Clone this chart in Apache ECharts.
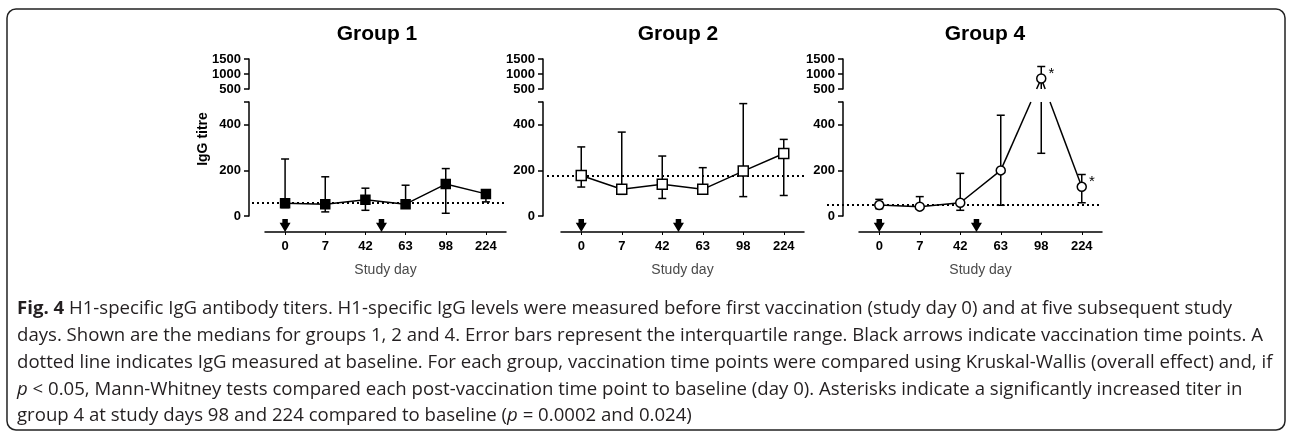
<!DOCTYPE html>
<html><head><meta charset="utf-8">
<script src="https://cdn.jsdelivr.net/npm/echarts@6/dist/echarts.min.js"></script>
<style>html,body{margin:0;padding:0;background:#fff}#c{width:1292px;height:432px}</style>
</head><body><div id="c"></div>
<script>
// ---------------- data ----------------
const days = ['0', '7', '42', '63', '98', '224'];
const vaccinationPos = [0, 2.4];           // arrows: day 0 and between day 42 and 63
const groupTitles = ['Group 1', 'Group 2', 'Group 4'];

const g1Median = [56, 52, 71, 52, 140, 97];
const g1Q1 = [37, 18, 25, 48, 12, 62];
const g1Q3 = [250, 172, 122, 135, 208, 105];
const g1Baseline = 57;

const g2Median = [178, 117, 139, 117, 197, 274];
const g2Q1 = [127, 95, 77, 102, 85, 90];
const g2Q3 = [303, 368, 263, 212, 493, 336];
const g2Baseline = 178;

const g4Median = [48, 41, 58, 200, 850, 128];
const g4Q1 = [32, 30, 25, 47, 275, 58];
const g4Q3 = [73, 85, 187, 442, 1250, 182];
const g4Baseline = 48;
const g4Significance = ['', '', '', '', '*', '*'];

const lowerTicks = [0, 200, 400];
const upperTicks = [500, 1000, 1500];
const breakValue = 500;
const upperMax = 1500;
const yLabel = 'IgG titre';
const xLabel = 'Study day';

const captionLines = [
  '{b|Fig. 4} H1-specific IgG antibody titers. H1-specific IgG levels were measured before first vaccination (study day 0) and at five subsequent study',
  'days. Shown are the medians for groups 1, 2 and 4. Error bars represent the interquartile range. Black arrows indicate vaccination time points. A',
  'dotted line indicates IgG measured at baseline. For each group, vaccination time points were compared using Kruskal-Wallis (overall effect) and, if',
  '{i|p} < 0.05, Mann-Whitney tests compared each post-vaccination time point to baseline (day 0). Asterisks indicate a significantly increased titer in',
  'group 4 at study days 98 and 224 compared to baseline ({i|p} = 0.0002 and 0.024)'
];

// ---------------- layout / style ----------------
const groups = [
  {median: g1Median, q1: g1Q1, q3: g1Q3, base: g1Baseline, sig: null},
  {median: g2Median, q1: g2Q1, q3: g2Q3, base: g2Baseline, sig: null},
  {median: g4Median, q1: g4Q1, q3: g4Q3, base: g4Baseline, sig: g4Significance}
];
const markerStyles = [
  {symbol: 'rect', size: 9, fill: '#000'},
  {symbol: 'rect', size: 10, fill: '#fff'},
  {symbol: 'circle', size: 9, fill: '#fff'}
];
const panels = [
  {axisX: 249, xLeft: 265, xRight: 506, dotLeft: 252, titleX: 377},
  {axisX: 543, xLeft: 561, xRight: 804, dotLeft: 547, titleX: 678},
  {axisX: 843, xLeft: 859, xRight: 1102, dotLeft: 827, titleX: 985}
];
const V = {upperTop: 59, upperBottom: 89, lowerTop: 102, lowerBottom: 216, xAxisY: 232};
const FONT = 'Liberation Sans, Arial, sans-serif';
const CAP = 8;
const LW = 1.5;

const chart = echarts.init(document.getElementById('c'), null, {renderer: 'canvas'});

const grid = [], xAxis = [], yAxis = [], series = [];

const axisLineStyle = {show: true, onZero: false, lineStyle: {color: '#000', width: LW}};
const yLabelStyle = {color: '#000', fontSize: 13, fontWeight: 'bold', fontFamily: FONT, margin: 8, formatter: v => String(v)};

function errorBarItem(api, lo, hi, capLo, capHi) {
  const pLo = api.coord([api.value(0), lo]);
  const pHi = api.coord([api.value(0), hi]);
  const st = {stroke: '#000', lineWidth: LW};
  const ch = [{type: 'line', shape: {x1: pLo[0], y1: pLo[1], x2: pHi[0], y2: pHi[1]}, style: st}];
  if (capLo) ch.push({type: 'line', shape: {x1: pLo[0] - CAP / 2, y1: pLo[1], x2: pLo[0] + CAP / 2, y2: pLo[1]}, style: st});
  if (capHi) ch.push({type: 'line', shape: {x1: pHi[0] - CAP / 2, y1: pHi[1], x2: pHi[0] + CAP / 2, y2: pHi[1]}, style: st});
  return {type: 'group', children: ch};
}

groups.forEach((g, p) => {
  const P = panels[p];
  const n = days.length;
  const band = (P.xRight - P.xLeft) / n;
  const gridLeft = P.dotLeft;
  const gridW = P.xRight - gridLeft;
  const xMin = -0.5 - (P.xLeft - gridLeft) / band;
  const offset = gridLeft - P.axisX;
  const gL = 3 * p, gU = 3 * p + 1, gX = 3 * p + 2;
  const xL = 4 * p, xU = 4 * p + 1, xC = 4 * p + 2, xA = 4 * p + 3;
  const yL = 3 * p, yU = 3 * p + 1, yA = 3 * p + 2;

  grid.push({left: gridLeft, width: gridW, top: V.lowerTop, height: V.lowerBottom - V.lowerTop, outerBoundsMode: 'none'});
  grid.push({left: gridLeft, width: gridW, top: V.upperTop, height: V.upperBottom - V.upperTop, outerBoundsMode: 'none'});
  grid.push({left: P.xLeft, width: P.xRight - P.xLeft, top: V.xAxisY - 30, height: 30, outerBoundsMode: 'none'});

  xAxis.push({type: 'value', gridIndex: gL, min: xMin, max: n - 0.5, show: false});
  xAxis.push({type: 'value', gridIndex: gU, min: xMin, max: n - 0.5, show: false});
  xAxis.push({
    type: 'category', gridIndex: gX, data: days, position: 'bottom', boundaryGap: true,
    axisLine: axisLineStyle,
    axisTick: {show: true, alignWithLabel: true, length: 3, lineStyle: {color: '#000', width: 1}},
    axisLabel: {color: '#000', fontSize: 13, fontWeight: 'bold', fontFamily: FONT, margin: 8},
    splitLine: {show: false},
    name: xLabel, nameLocation: 'middle', nameGap: 31,
    nameTextStyle: {color: '#4a4a4a', fontSize: 14, fontFamily: FONT}
  });
  xAxis.push({type: 'value', gridIndex: gX, min: -0.5, max: n - 0.5, show: false});

  yAxis.push({
    type: 'value', gridIndex: gL, min: 0, max: breakValue, offset: offset,
    axisLine: axisLineStyle,
    axisTick: {show: true, length: 5, customValues: lowerTicks.concat([breakValue]), lineStyle: {color: '#000', width: LW}},
    axisLabel: Object.assign({customValues: lowerTicks}, yLabelStyle),
    splitLine: {show: false}
  });
  yAxis.push({
    type: 'value', gridIndex: gU, min: breakValue, max: upperMax, interval: 500, offset: offset,
    axisLine: axisLineStyle,
    axisTick: {show: true, length: 5, customValues: upperTicks, lineStyle: {color: '#000', width: LW}},
    axisLabel: Object.assign({customValues: upperTicks}, yLabelStyle),
    splitLine: {show: false}
  });
  yAxis.push({type: 'value', gridIndex: gX, min: 0, max: 1, show: false});

  const ms = markerStyles[p];
  const mkData = (inUpper) => g.median.map((v, i) => {
    const ok = inUpper ? v > breakValue : v <= breakValue;
    if (!ok) return [i, '-'];
    const s = g.sig && g.sig[i];
    if (s) return {value: [i, v], label: {show: true, formatter: s, position: 'right', distance: 2, offset: [0, -5], color: '#000', fontSize: 15, fontFamily: FONT}};
    return [i, v];
  });
  const lineCommon = {
    type: 'line', symbol: ms.symbol, symbolSize: ms.size, showSymbol: true, z: 5,
    itemStyle: {color: ms.fill, borderColor: '#000', borderWidth: LW, opacity: 1},
    lineStyle: {color: '#000', width: LW}, animation: false, silent: true
  };
  series.push(Object.assign({}, lineCommon, {
    xAxisIndex: xL, yAxisIndex: yL, data: mkData(false),
    markLine: {
      symbol: 'none', silent: true, label: {show: false}, animation: false,
      lineStyle: {color: '#000', width: 2, type: [2, 3], opacity: 1},
      data: [{yAxis: g.base}]
    }
  }));
  series.push(Object.assign({}, lineCommon, {xAxisIndex: xU, yAxisIndex: yU, data: mkData(true)}));

  series.push({
    type: 'custom', xAxisIndex: xL, yAxisIndex: yL, z: 3, silent: true, animation: false, clip: false,
    data: g.median.map((v, i) => [i, g.q1[i], g.q3[i]]).filter(d => d[1] <= breakValue),
    renderItem: (params, api) => {
      const q1 = api.value(1), q3 = api.value(2);
      return errorBarItem(api, q1, Math.min(q3, breakValue), true, q3 <= breakValue);
    }
  });
  series.push({
    type: 'custom', xAxisIndex: xU, yAxisIndex: yU, z: 3, silent: true, animation: false, clip: false,
    data: g.median.map((v, i) => [i, g.q1[i], g.q3[i]]).filter(d => d[2] > breakValue),
    renderItem: (params, api) => {
      const q1 = api.value(1), q3 = api.value(2);
      return errorBarItem(api, Math.max(q1, breakValue), q3, q1 > breakValue, true);
    }
  });
  const crossing = [];
  for (let i = 0; i < g.median.length - 1; i++) {
    if ((g.median[i] > breakValue) !== (g.median[i + 1] > breakValue)) crossing.push([i, g.median[i], g.median[i + 1]]);
  }
  series.push({
    type: 'custom', xAxisIndex: xL, yAxisIndex: yL, z: 3, silent: true, animation: false, clip: false,
    data: crossing,
    renderItem: (params, api) => {
      const i = api.value(0), a = api.value(1), b = api.value(2);
      const toPx = (idx, v) => v <= breakValue ? api.coord([idx, v]) : chart.convertToPixel({gridIndex: gU}, [idx, v]);
      const p1 = toPx(i, a), p2 = toPx(i + 1, b);
      const yLowTop = api.coord([i, breakValue])[1];
      const yUpBot = chart.convertToPixel({gridIndex: gU}, [i, breakValue])[1];
      const xAt = y => p1[0] + (p2[0] - p1[0]) * (y - p1[1]) / (p2[1] - p1[1]);
      const lowP = a <= breakValue ? p1 : p2;
      const upP = a <= breakValue ? p2 : p1;
      const st = {stroke: '#000', lineWidth: LW};
      return {type: 'group', children: [
        {type: 'line', shape: {x1: lowP[0], y1: lowP[1], x2: xAt(yLowTop), y2: yLowTop}, style: st},
        {type: 'line', shape: {x1: xAt(yUpBot), y1: yUpBot, x2: upP[0], y2: upP[1]}, style: st}
      ]};
    }
  });
  series.push({
    type: 'scatter', xAxisIndex: xA, yAxisIndex: yA, silent: true, animation: false, z: 6,
    symbol: 'path://M2.5,0 L7.5,0 L7.5,4 L10,4 L5,14 L0,4 L2.5,4 Z', symbolKeepAspect: false,
    symbolSize: [11, 13], symbolOffset: [0, '-50%'],
    itemStyle: {color: '#000', opacity: 1},
    data: vaccinationPos.map(x => [x, 0])
  });
});

const graphic = [
  {type: 'rect', shape: {x: 7, y: 9, width: 1278, height: 421, r: 9}, style: {fill: 'none', stroke: '#222', lineWidth: 1.5}, z: -10, silent: true}
];
groupTitles.forEach((t, p) => {
  graphic.push({type: 'text', x: panels[p].titleX, y: 34, silent: true,
    style: {text: t, align: 'center', verticalAlign: 'middle', fill: '#000', fontSize: 21, fontWeight: 'bold', fontFamily: FONT}});
});
graphic.push({type: 'text', x: 203, y: 139, rotation: Math.PI / 2, silent: true,
  style: {text: yLabel, align: 'center', verticalAlign: 'middle', fill: '#000', fontSize: 14, fontWeight: 'bold', fontFamily: FONT}});

const capFont = {fontSize: 18.6, fontFamily: 'Open Sans', fill: '#231f20'};
captionLines.forEach((line, k) => {
  graphic.push({type: 'text', x: 17, y: 309 + k * 26.8, silent: true,
    style: Object.assign({
      text: line, align: 'left', verticalAlign: 'middle',
      rich: {
        b: Object.assign({fontWeight: 'bold'}, capFont),
        i: Object.assign({fontStyle: 'italic'}, capFont)
      }
    }, capFont)});
});

chart.setOption({
  animation: false,
  backgroundColor: '#fff',
  grid, xAxis, yAxis, series, graphic
});
</script></body></html>
